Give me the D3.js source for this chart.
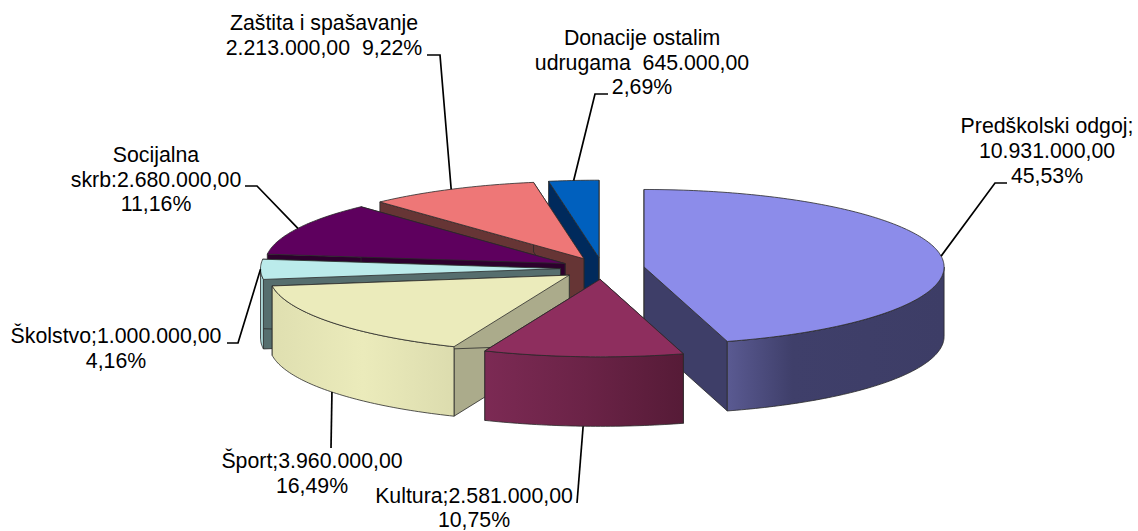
<!DOCTYPE html>
<html>
<head>
<meta charset="utf-8">
<script src="https://cdn.jsdelivr.net/npm/d3@7"></script>
<style>
  html, body { margin: 0; background: #fff; }
  text { font-family: "Liberation Sans", Arial, sans-serif; font-size: 21.3px; fill: #000; text-anchor: middle; }
</style>
</head>
<body>
<svg id="chart" width="1138" height="531"></svg>
<script>
// slices run clockwise from 12 o'clock
const categories = ['Predškolski odgoj', 'Kultura', 'Šport', 'Školstvo', 'Socijalna skrb', 'Zaštita i spašavanje', 'Donacije ostalim udrugama'];
const amounts = [10931000, 2581000, 3960000, 1000000, 2680000, 2213000, 645000];
const labelLines = [
      ['Predškolski odgoj;', '10.931.000,00', '45,53%'],
      ['Kultura;2.581.000,00', '10,75%'],
      ['Šport;3.960.000,00', '16,49%'],
      ['Školstvo;1.000.000,00', '4,16%'],
      ['Socijalna', 'skrb:2.680.000,00', '11,16%'],
      ['Zaštita i spašavanje', '2.213.000,00  9,22%'],
      ['Donacije ostalim', 'udrugama  645.000,00', '2,69%']
];
const topColors = ['#8c8cea', '#8e2e5e', '#ebebbb', '#bbebeb', '#5e005e', '#ee7777', '#0060be'];
const cutColors = ['#3e3e68', '#5a1c3a', '#abab8b', '#566e6e', '#2d002d', '#663535', '#002a5c'];
const rimColors = [
      ['#5a5a92', '#3f3f6a', '#3d3d66'],
      ['#7c2a54', '#6b2347', '#561b37'],
      ['#dfdfb0', '#ebebbb', '#dcdcae'],
      ['#a9d4d4', '#a9d4d4', '#a9d4d4'],
      ['#2d002d', '#2d002d', '#2d002d'],
      ['#663535', '#663535', '#663535'],
      ['#002a5c', '#002a5c', '#002a5c']
];

// layout
const cx = 602.5, cy = 268.5, rx = 300, ry = 77.5, depth = 69.5, explode = 0.14;
const drawOrder = [6, 5, 4, 3, 2, 0, 1];
const labelX = [1047, 474, 312, 116, 156, 324, 642];
const labelY = [133, 503, 468, 343, 162, 30, 45];
const lineGap = [25, 24, 25, 25, 24.5, 25, 24.5];
// leader: label end of the line, then elbow
const leaderEnd = [[1007, 183], [577, 503], [331, 448], [227, 343], [245, 186], [427, 55], [608, 94]];
const leaderElbow = [[995, 183], null, null, [238, 343], [257, 186], [440, 55], [595, 94]];
const leaderOnBottom = [false, true, true, false, false, false, false];

const svg = d3.select('#chart');
const defs = svg.append('defs');
const line = d3.line().x(d => d[0]).y(d => d[1]);

const slices = d3.pie().sort(null).startAngle(0).endAngle(2 * Math.PI)(amounts);

function apex(s) {
      const mid = (s.startAngle + s.endAngle) / 2;
      return [cx + rx * explode * Math.sin(mid), cy - ry * explode * Math.cos(mid)];
}

function rimPoint(s, a, dz = 0) {
      const c = apex(s);
      return [c[0] + rx * Math.sin(a), c[1] - ry * Math.cos(a) + dz];
}

function arcPoints(s, a0, a1, dz = 0) {
      const n = Math.max(2, Math.ceil((a1 - a0) * 60));
      return d3.range(n + 1).map(i => rimPoint(s, a0 + (a1 - a0) * i / n, dz));
}

function cutFace(s, a) {
      const c = apex(s), p = rimPoint(s, a), q = rimPoint(s, a, depth);
      return line([c, p, q, [c[0], c[1] + depth]]) + 'Z';
}

rimColors.forEach((stops, i) => {
      const g = defs.append('linearGradient').attr('id', 'rim' + i);
      stops.forEach((c, j) => g.append('stop').attr('offset', i === 0 && j === 1 ? 0.3 : j / 2).attr('stop-color', c));
});

function face(g, d, fill) {
      g.append('path').attr('d', d).attr('fill', fill)
            .attr('stroke', '#2a2a2a').attr('stroke-width', 0.8).attr('stroke-linejoin', 'round');
}

drawOrder.forEach(i => {
      const s = slices[i];
      const g = svg.append('g').attr('class', 'slice').attr('data-name', categories[i]);
      const c = apex(s);

      face(g, cutFace(s, s.startAngle), cutColors[i]);
      face(g, cutFace(s, s.endAngle), cutColors[i]);

      // outer wall, only the part turned towards the viewer
      const a0 = Math.max(s.startAngle, Math.PI / 2), a1 = Math.min(s.endAngle, 3 * Math.PI / 2);
      if (a1 > a0) {
            const wall = arcPoints(s, a0, a1).concat(arcPoints(s, a0, a1, depth).reverse());
            face(g, line(wall) + 'Z', `url(#rim${i})`);
      }

      face(g, line([c].concat(arcPoints(s, s.startAngle, s.endAngle))) + 'Z', topColors[i]);
});

slices.forEach((s, i) => {
      const mid = (s.startAngle + s.endAngle) / 2;
      const pts = [rimPoint(s, mid, leaderOnBottom[i] ? depth : 0)];
      if (leaderElbow[i]) pts.push(leaderElbow[i]);
      pts.push(leaderEnd[i]);
      svg.append('path').attr('d', line(pts)).attr('fill', 'none').attr('stroke', '#000').attr('stroke-width', 1.7);

      const t = svg.append('text').attr('x', labelX[i]).attr('y', labelY[i]);
      labelLines[i].forEach((l, j) => {
            t.append('tspan').attr('x', labelX[i]).attr('y', labelY[i] + j * lineGap[i]).style('white-space', 'pre').text(l);
      });
});
</script>
</body>
</html>
